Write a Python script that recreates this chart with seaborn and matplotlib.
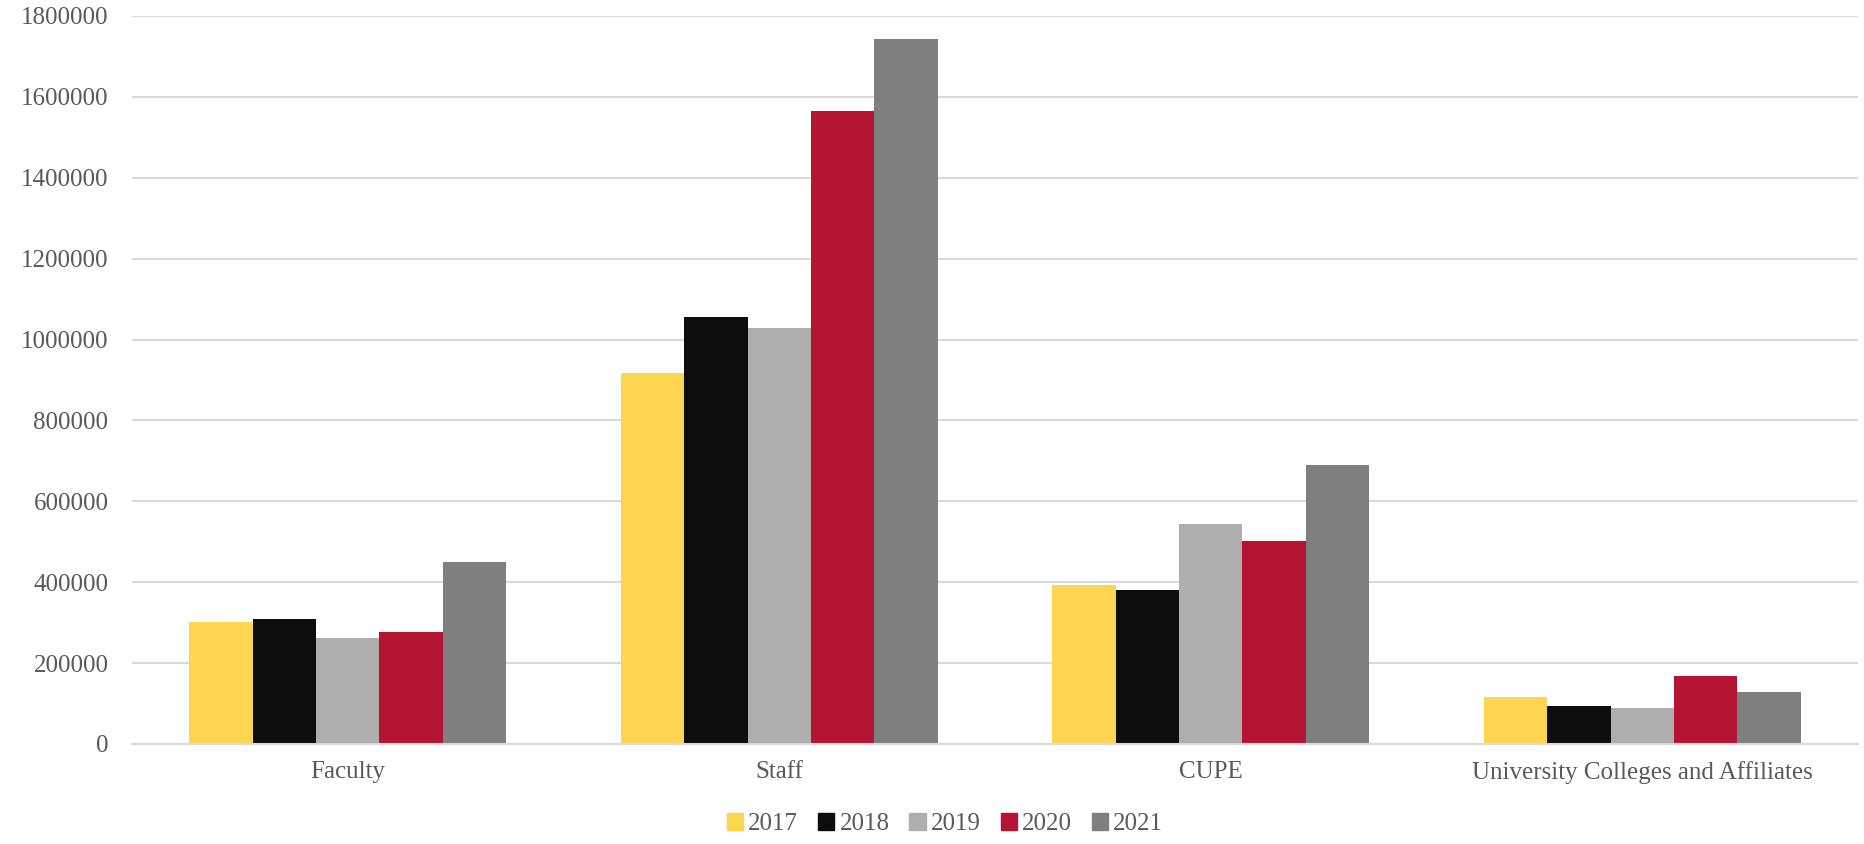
import matplotlib
matplotlib.use("Agg")
import matplotlib.pyplot as plt
import seaborn as sns
import pandas as pd

categories = ["Faculty", "Staff", "CUPE", "University Colleges and Affiliates"]
years = ["2017", "2018", "2019", "2020", "2021"]
values_2017 = [302000, 918000, 393000, 117000]
values_2018 = [309000, 1055000, 382000, 95000]
values_2019 = [263000, 1028000, 544000, 90000]
values_2020 = [276000, 1565000, 501000, 168000]
values_2021 = [449000, 1743000, 689000, 128000]
colors = ["#FED550", "#0D0D0D", "#AEAEAE", "#B51432", "#7F7F7F"]
yticks = list(range(0, 1800001, 200000))

series = [values_2017, values_2018, values_2019, values_2020, values_2021]
rows = []
for year, vals in zip(years, series):
    for cat, v in zip(categories, vals):
        rows.append({"category": cat, "year": year, "value": v})
df = pd.DataFrame(rows)

sns.set_theme(style="white")
plt.rcParams["font.family"] = ["Liberation Serif", "DejaVu Serif"]
text_color = "#595959"
grid_color = "#D9D9D9"

fig = plt.figure(figsize=(18.64, 8.44), dpi=100)
ax = fig.add_axes([132 / 1864, 1 - 744 / 844, 1726 / 1864, 728 / 844])

sns.barplot(data=df, x="category", y="value", hue="year", order=categories,
            hue_order=years, palette=colors, saturation=1, width=0.735, gap=0,
            linewidth=0, ax=ax, legend=False)

ax.set_ylim(0, 1800000)
ax.set_xlim(-0.5, len(categories) - 0.5)
ax.set_yticks(yticks)
ax.set_yticklabels([str(t) for t in yticks])
ax.set_xlabel("")
ax.set_ylabel("")
ax.set_axisbelow(True)
ax.yaxis.grid(True, color=grid_color, linewidth=1.5)
ax.xaxis.grid(False)
for side in ["top", "right", "left"]:
    ax.spines[side].set_visible(False)
ax.spines["bottom"].set_color(grid_color)
ax.spines["bottom"].set_linewidth(1.5)
ax.tick_params(axis="both", length=0, labelsize=18, colors=text_color)
ax.tick_params(axis="y", pad=17)
ax.tick_params(axis="x", pad=12)

handles = [plt.Rectangle((0, 0), 1, 1, color=c) for c in colors]
fig.legend(handles, years, loc="center", bbox_to_anchor=(945 / 1864, 1 - 824 / 844),
           ncol=5, frameon=False, fontsize=18, handlelength=0.65, handleheight=0.65,
           handletextpad=0.2, columnspacing=0.8, labelcolor=text_color)

fig.savefig("out.png", dpi=100, facecolor="white")
